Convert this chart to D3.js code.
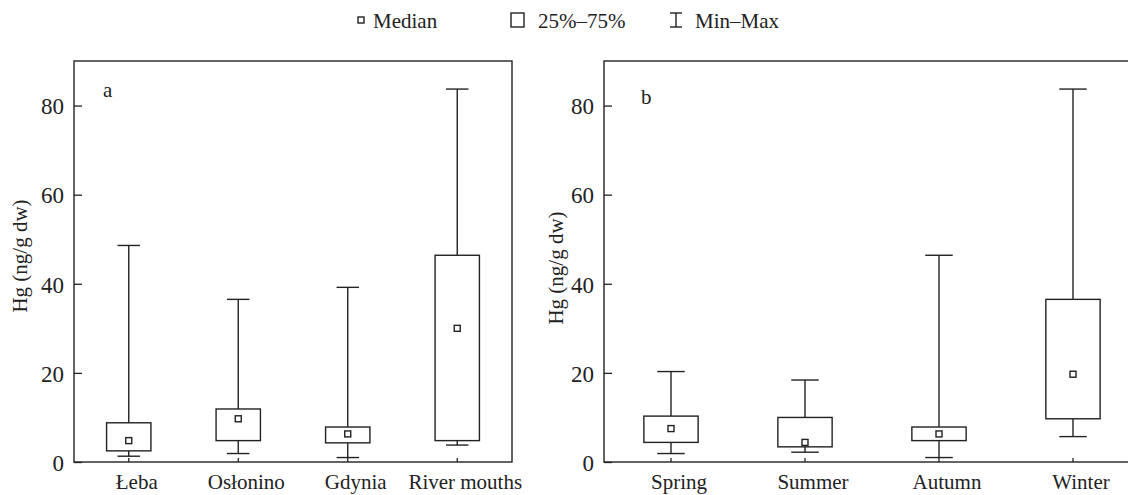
<!DOCTYPE html>
<meta charset='utf-8'>
<body style='margin:0;background:#fff'>
<script src='https://d3js.org/d3.v7.min.js'></script>
<script>
  // panel a: sampling sites
  const sites = ['Łeba', 'Osłonino', 'Gdynia', 'River mouths'];
  const siteMin = [1.3, 1.9, 1.0, 3.8];
  const siteQ1 = [2.5, 4.8, 4.3, 4.8];
  const siteMed = [4.8, 9.7, 6.3, 30.0];
  const siteQ3 = [8.8, 11.9, 7.85, 46.4];
  const siteMax = [48.6, 36.5, 39.2, 83.7];

  // panel b: seasons
  const seasons = ['Spring', 'Summer', 'Autumn', 'Winter'];
  const seasonMin = [1.9, 2.2, 1.0, 5.7];
  const seasonQ1 = [4.4, 3.4, 4.8, 9.7];
  const seasonMed = [7.5, 4.4, 6.3, 19.7];
  const seasonQ3 = [10.3, 10.0, 7.85, 36.5];
  const seasonMax = [20.3, 18.4, 46.4, 83.7];

  const yTicks = [0, 20, 40, 60, 80];
  const yLabel = 'Hg (ng/g dw)';

  const W = 1128, H = 495;
  const font = '"Liberation Serif", "Times New Roman", serif';
  const ink = '#222';

  const svg = d3.select('body').append('svg')
    .attr('width', W)
    .attr('height', H)
    .style('font-family', font);

  const y = d3.scaleLinear().domain([0, 90]).range([462, 61]);

  function panel(cfg) {
    const x = d3.scaleBand()
      .domain(cfg.cats)
      .range([cfg.left, cfg.right]);
    const bw = x.bandwidth();
    const boxW = bw * 0.405;
    const capW = bw * 0.205;

    const rows = cfg.cats.map((c, i) => ({
      cat: c, min: cfg.min[i], q1: cfg.q1[i], med: cfg.med[i], q3: cfg.q3[i], max: cfg.max[i]
    }));

    const g = svg.append('g');

    // frame
    g.append('rect')
      .attr('x', cfg.left)
      .attr('y', y.range()[1])
      .attr('width', cfg.right - cfg.left)
      .attr('height', y.range()[0] - y.range()[1])
      .attr('fill', 'none')
      .attr('stroke', ink)
      .attr('stroke-width', 1.4);

    // y axis, ticks inside
    const ya = g.append('g')
      .attr('transform', `translate(${cfg.left},0)`)
      .call(d3.axisRight(y).tickValues(yTicks).tickSize(8).tickFormat(d3.format('d')));
    ya.select('.domain').remove();
    ya.selectAll('line').attr('stroke', ink).attr('stroke-width', 1.3);
    ya.selectAll('text')
      .attr('x', -10)
      .attr('text-anchor', 'end')
      .attr('dy', '0.36em')
      .style('font-family', font)
      .style('font-size', '23px')
      .attr('fill', ink);

    // x axis, ticks inside
    const xa = g.append('g')
      .attr('transform', `translate(0,${y.range()[0]})`)
      .call(d3.axisTop(x).tickSize(4).tickSizeOuter(0));
    xa.select('.domain').remove();
    xa.selectAll('line').attr('stroke', ink).attr('stroke-width', 1.3);
    xa.selectAll('text')
      .attr('y', 27)
      .attr('dx', 8)
      .attr('dy', 0)
      .style('font-family', font)
      .style('font-size', '21px')
      .attr('fill', ink);

    const boxes = g.selectAll('.bx').data(rows).join('g')
      .attr('class', 'bx')
      .attr('transform', d => `translate(${x(d.cat) + bw / 2},0)`)
      .attr('stroke', ink)
      .attr('stroke-width', 1.4)
      .attr('fill', 'none');

    // whiskers
    boxes.append('line')
      .attr('y1', d => y(d.q3)).attr('y2', d => y(d.max));
    boxes.append('line')
      .attr('y1', d => y(d.q1)).attr('y2', d => y(d.min));
    boxes.append('line')
      .attr('x1', -capW / 2).attr('x2', capW / 2)
      .attr('y1', d => y(d.max)).attr('y2', d => y(d.max));
    boxes.append('line')
      .attr('x1', -capW / 2).attr('x2', capW / 2)
      .attr('y1', d => y(d.min)).attr('y2', d => y(d.min));

    // box
    boxes.append('rect')
      .attr('x', -boxW / 2)
      .attr('width', boxW)
      .attr('y', d => y(d.q3))
      .attr('height', d => y(d.q1) - y(d.q3))
      .attr('fill', '#fff');

    // median
    boxes.append('rect')
      .attr('x', -3).attr('width', 6)
      .attr('y', d => y(d.med) - 3).attr('height', 6)
      .attr('fill', '#fff');

    // panel letter
    g.append('text')
      .attr('x', cfg.letterX)
      .attr('y', cfg.letterY)
      .style('font-size', '21px')
      .attr('fill', ink)
      .text(cfg.letter);

    // y label
    g.append('text')
      .attr('transform', `translate(${cfg.labelX},${cfg.labelY}) rotate(-90)`)
      .attr('text-anchor', 'middle')
      .style('font-size', '21px')
      .attr('fill', ink)
      .text(yLabel);
  }

  panel({
    cats: sites, min: siteMin, q1: siteQ1, med: siteMed, q3: siteQ3, max: siteMax,
    left: 74, right: 512, letter: 'a', letterX: 103, letterY: 97, labelX: 27, labelY: 256
  });

  panel({
    cats: seasons, min: seasonMin, q1: seasonQ1, med: seasonMed, q3: seasonQ3, max: seasonMax,
    left: 604, right: 1140, letter: 'b', letterX: 641, letterY: 104, labelX: 563, labelY: 268
  });

  // legend
  const lg = svg.append('g')
    .attr('stroke', ink)
    .attr('stroke-width', 1.4)
    .attr('fill', 'none');
  lg.append('rect').attr('x', 358).attr('y', 17).attr('width', 6).attr('height', 6);
  lg.append('rect').attr('x', 511).attr('y', 13).attr('width', 13).attr('height', 14);
  lg.append('line').attr('x1', 676).attr('x2', 676).attr('y1', 13).attr('y2', 27);
  lg.append('line').attr('x1', 670).attr('x2', 682).attr('y1', 13).attr('y2', 13);
  lg.append('line').attr('x1', 670).attr('x2', 682).attr('y1', 27).attr('y2', 27);

  const legendText = [['Median', 373], ['25%–75%', 538], ['Min–Max', 695]];
  svg.selectAll('.lt').data(legendText).join('text')
    .attr('class', 'lt')
    .attr('x', d => d[1])
    .attr('y', 28)
    .style('font-size', '21px')
    .attr('fill', ink)
    .text(d => d[0]);
</script>
